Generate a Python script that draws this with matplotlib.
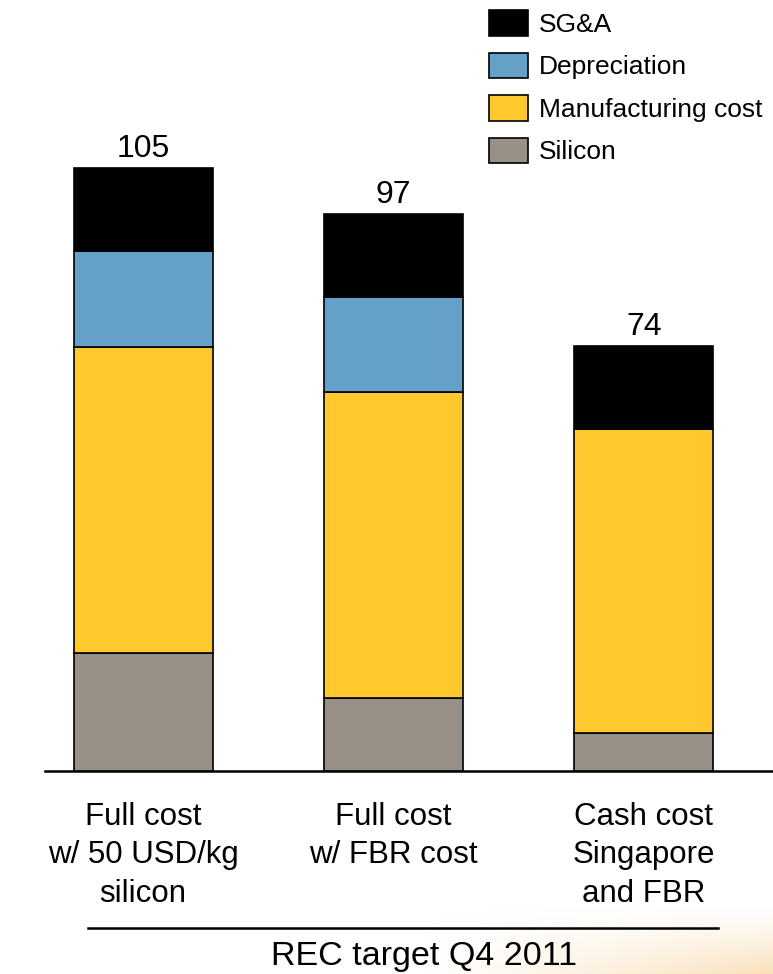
import numpy as np
import matplotlib
matplotlib.use("Agg")
import matplotlib.pyplot as plt
from matplotlib.patches import Patch
from matplotlib.lines import Line2D

plt.rcParams['font.family'] = ['Liberation Sans', 'DejaVu Sans']

categories = ["Full cost\nw/ 50 USD/kg\nsilicon", "Full cost\nw/ FBR cost", "Cash cost\nSingapore\nand FBR"]
series_names = ["Silicon", "Manufacturing cost", "Depreciation", "SG&A"]
silicon = [20.5, 12.7, 6.6]
manufacturing = [53.3, 53.3, 53.0]
depreciation = [16.7, 16.5, 0.0]
sga = [14.5, 14.5, 14.4]
totals = [105, 97, 74]
group_title = "REC target Q4 2011"

colors = {"Silicon": "#988F86", "Manufacturing cost": "#FFC82D",
          "Depreciation": "#64A0C8", "SG&A": "#000000"}

W, H = 773, 974
fig = plt.figure(figsize=(W / 100, H / 100), dpi=100)
fig.patch.set_facecolor("white")

# decorative soft orange glow bottom-right
gx0, gh = 420, 70
gax = fig.add_axes([gx0 / W, 0, 1 - gx0 / W, gh / H])
gax.axis("off")
ny, nx = 70, 353
xx = np.linspace(0, 1, nx)[None, :]
yy = np.linspace(0, 1, ny)[:, None]
alpha = np.clip((xx ** 1.1) * (yy ** 1.3) * 0.72, 0, 1)
img = np.zeros((ny, nx, 4))
img[..., 0] = 0.97
img[..., 1] = 0.83
img[..., 2] = 0.62
img[..., 3] = alpha
gax.imshow(img, aspect="auto", extent=[0, 1, 0, 1], origin="upper")
gax.set_xlim(0, 1); gax.set_ylim(0, 1)

ax = fig.add_axes([45 / W, 1 - 771 / H, 1 - 45 / W, 771 / H])
ax.set_facecolor("none")
x = np.arange(len(categories))
width = 0.556
bottom = np.zeros(len(categories))
for name, vals in zip(series_names, [silicon, manufacturing, depreciation, sga]):
    vals = np.array(vals)
    ax.bar(x, vals, width, bottom=bottom, color=colors[name],
           edgecolor="black", linewidth=1.2, zorder=3)
    bottom = bottom + vals

for xi, t in zip(x, totals):
    ax.annotate(f"{t}", (xi, t), xytext=(0, 3), textcoords="offset points",
                ha="center", va="bottom", fontsize=23)

ax.set_xlim(-0.392, 2.516)
ax.set_ylim(0, 771 / 5.743)
ax.set_yticks([])
for s in ["top", "right", "left"]:
    ax.spines[s].set_visible(False)
ax.spines["bottom"].set_linewidth(1.8)
ax.set_xticks(x)
ax.set_xticklabels(categories, fontsize=22.5, linespacing=1.37)
ax.tick_params(axis="x", length=0, pad=22)

# group line and title
fig.add_artist(Line2D([88 / W, 718 / W], [1 - 928 / H, 1 - 928 / H],
                      color="black", linewidth=1.8))
fig.text(424 / W, 1 - 956 / H, group_title, ha="center", va="center", fontsize=24.5)

handles = [Patch(facecolor=colors[n], edgecolor="black", linewidth=1.2)
           for n in series_names[::-1]]
fig.legend(handles, series_names[::-1], loc="upper left",
           bbox_to_anchor=(484 / W, 1 - 5 / H), frameon=False, fontsize=19,
           handlelength=1.45, handleheight=1.1, handletextpad=0.42,
           labelspacing=0.6, borderaxespad=0, borderpad=0.2)

fig.savefig("out.png", dpi=100)
